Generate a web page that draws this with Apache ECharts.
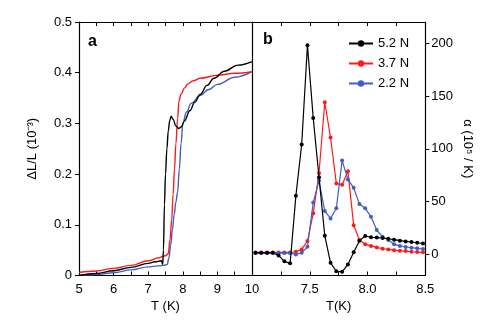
<!DOCTYPE html>
<html>
<head>
<meta charset="utf-8">
<script src="https://cdn.jsdelivr.net/npm/echarts@6/dist/echarts.min.js"></script>
<style>html,body{margin:0;padding:0;background:#fff}#c{width:502px;height:321px}</style>
</head>
<body>
<div id="c"></div>
<script>
// Panel a: relative length change ΔL/L (10^-3) vs T (K)
var aT_52 = [5.0, 5.5, 6.0, 6.5, 7.0, 7.2, 7.38, 7.42, 7.44, 7.47, 7.5, 7.54, 7.58, 7.62, 7.66, 7.72, 7.8, 7.88, 7.95, 8.05, 8.2, 8.35, 8.5, 8.7, 8.9, 9.2, 9.6, 10.0];
var aV_52 = [0.0, 0.004, 0.0095, 0.016, 0.024, 0.027, 0.029, 0.022, 0.05, 0.14, 0.2, 0.25, 0.285, 0.305, 0.314, 0.308, 0.295, 0.29, 0.293, 0.305, 0.325, 0.342, 0.357, 0.375, 0.389, 0.403, 0.415, 0.422];
var aT_37 = [5.0, 5.5, 6.0, 6.5, 7.0, 7.3, 7.5, 7.58, 7.63, 7.68, 7.72, 7.76, 7.8, 7.85, 7.89, 7.95, 8.05, 8.15, 8.3, 8.5, 9.0, 9.5, 10.0];
var aV_37 = [0.006, 0.009, 0.014, 0.020, 0.029, 0.035, 0.039, 0.043, 0.07, 0.11, 0.16, 0.21, 0.26, 0.31, 0.345, 0.358, 0.37, 0.378, 0.384, 0.389, 0.395, 0.399, 0.402];
var aT_22 = [5.0, 5.5, 6.0, 6.5, 7.0, 7.3, 7.45, 7.55, 7.6, 7.65, 7.7, 7.75, 7.8, 7.85, 7.9, 7.95, 8.0, 8.1, 8.25, 8.5, 8.75, 9.0, 9.5, 10.0];
var aV_22 = [0.0, 0.002, 0.0055, 0.011, 0.017, 0.019, 0.02, 0.022, 0.035, 0.06, 0.09, 0.12, 0.145, 0.165, 0.21, 0.26, 0.30, 0.322, 0.34, 0.355, 0.367, 0.377, 0.391, 0.402];

// Panel b: thermal expansion α (10^5 / K) vs T (K)
var bT = [7.03, 7.08, 7.13, 7.18, 7.23, 7.28, 7.33, 7.38, 7.43, 7.48, 7.53, 7.58, 7.63, 7.68, 7.73, 7.78, 7.83, 7.88, 7.93, 7.98, 8.03, 8.08, 8.13, 8.18, 8.23, 8.28, 8.33, 8.38, 8.43, 8.48];
var b_52 = [1.5, 1.5, 1.5, 1.5, -1, -6.6, -8.5, 55.6, 104, 198, 129, 73, 17.6, -8, -16, -16.5, -9.5, 2, 13, 17.4, 16.2, 15.9, 15.5, 14.8, 13.9, 13, 12.3, 11.7, 11, 10.3];
var b_37 = [1.8, 1.8, 1.8, 1.8, 1.8, 1.8, 1.8, 2.5, 4.7, 12.6, 39, 77, 144, 110.6, 67, 66, 78.7, 27.5, 13.6, 9.5, 8, 6.6, 5.3, 4.7, 4, 3.4, 3.1, 2.5, 2.2, 1.9];
var b_22 = [1.2, 1.2, 1.2, 1.2, 1.2, 1.2, 1.2, 0, 1.5, 7.2, 49, 69.8, 41, 34, 43.6, 88.8, 71, 63, 47.7, 43.6, 35.7, 23, 16.7, 13.6, 9.5, 8, 7, 6.3, 5.7, 5];

var seriesNames = ['5.2 N', '3.7 N', '2.2 N'];
var xTicksA = {min: 5, max: 10, interval: 1};
var xTicksB = {min: 7, max: 8.5, interval: 0.5};
var yTicksB = [0, 50, 100, 150, 200];

var COL = {k: '#000000', r: '#ff1a1a', b: '#3f5fc4'};
var FONT = '"Liberation Sans", Arial, sans-serif';

function pairs(xs, ys) { return xs.map(function (x, i) { return [x, ys[i]]; }); }

var axLine = {show: true, onZero: false, lineStyle: {color: '#000', width: 1.2}};
function xAx(grid, pos, lim, labels, extra) {
  var o = {
    type: 'value', gridIndex: grid, position: pos, min: lim.min, max: lim.max, interval: lim.interval,
    axisLine: axLine,
    axisTick: {show: true, inside: true, length: 4, lineStyle: {color: '#000', width: 1}},
    minorTick: {show: true, splitNumber: 2, length: 4, lineStyle: {color: '#000', width: 1}},
    splitLine: {show: false},
    axisLabel: {show: labels, color: '#000', fontSize: 13, fontFamily: FONT, margin: 7}
  };
  if (extra) for (var k in extra) o[k] = extra[k];
  return o;
}

var chart = echarts.init(document.getElementById('c'), null, {renderer: 'canvas'});
var xb = xAx(1, 'bottom', xTicksB, true, {name: 'T(K)', nameLocation: 'middle', nameGap: 21,
  nameTextStyle: {color: '#000', fontSize: 13, fontFamily: FONT}});
xb.axisLabel.formatter = function (v) { return v === xTicksB.min ? '' : v.toFixed(1); };
chart.setOption({
  animation: false,
  backgroundColor: '#fff',
  textStyle: {fontFamily: FONT},
  grid: [
    {left: 79, top: 22, width: 173, height: 253.5},
    {left: 252, top: 22, width: 173.3, height: 253.5}
  ],
  xAxis: [
    xAx(0, 'bottom', xTicksA, true, {name: 'T (K)', nameLocation: 'middle', nameGap: 21,
      nameTextStyle: {color: '#000', fontSize: 13, fontFamily: FONT}}),
    xAx(0, 'top', xTicksA, false),
    xb,
    xAx(1, 'top', xTicksB, false)
  ],
  yAxis: [
    {type: 'value', gridIndex: 0, position: 'left', min: 0, max: 0.5, interval: 0.1,
      axisLine: axLine,
      axisTick: {show: true, inside: false, length: 4, lineStyle: {color: '#000'}},
      splitLine: {show: false},
      axisLabel: {color: '#000', fontSize: 13, fontFamily: FONT, margin: 7},
      name: '\u0394L/L (10\u207B\u00B3)', nameLocation: 'middle', nameGap: 40, nameRotate: 90,
      nameTextStyle: {color: '#000', fontSize: 13, fontFamily: FONT}},
    {type: 'value', gridIndex: 0, position: 'right', min: 0, max: 0.5,
      axisLine: axLine, axisTick: {show: false}, axisLabel: {show: false}, splitLine: {show: false}},
    {type: 'value', gridIndex: 1, position: 'right', min: -20, max: 220,
      axisLine: axLine,
      axisTick: {show: true, inside: false, length: 4, customValues: yTicksB, lineStyle: {color: '#000'}},
      splitLine: {show: false},
      axisLabel: {color: '#000', fontSize: 13, fontFamily: FONT, margin: 6, customValues: yTicksB},
      name: '\u03B1 (10\u2075 / K)', nameLocation: 'middle', nameGap: 36, nameRotate: -90,
      nameTextStyle: {color: '#000', fontSize: 13, fontFamily: FONT}}
  ],
  legend: {
    data: seriesNames, orient: 'vertical', left: 343, top: 32, itemWidth: 24, itemHeight: 8,
    itemGap: 7, textStyle: {color: '#000', fontSize: 13, fontFamily: FONT}
  },
  graphic: [
    {type: 'text', left: 88, top: 34, style: {text: 'a', font: 'bold 16px ' + FONT, fill: '#000'}},
    {type: 'text', left: 263, top: 32, style: {text: 'b', font: 'bold 16px ' + FONT, fill: '#000'}}
  ],
  series: [
    {name: seriesNames[0], type: 'line', xAxisIndex: 2, yAxisIndex: 2, data: pairs(bT, b_52),
      symbol: 'circle', symbolSize: 4, lineStyle: {color: COL.k, width: 1.2}, itemStyle: {color: COL.k}, z: 5},
    {name: seriesNames[1], type: 'line', xAxisIndex: 2, yAxisIndex: 2, data: pairs(bT, b_37),
      symbol: 'circle', symbolSize: 4, lineStyle: {color: COL.r, width: 1.2}, itemStyle: {color: COL.r}, z: 3},
    {name: seriesNames[2], type: 'line', xAxisIndex: 2, yAxisIndex: 2, data: pairs(bT, b_22),
      symbol: 'circle', symbolSize: 4, lineStyle: {color: COL.b, width: 1.2}, itemStyle: {color: COL.b}, z: 4},
    {name: 'a ' + seriesNames[2], type: 'line', xAxisIndex: 0, yAxisIndex: 0, data: pairs(aT_22, aV_22),
      showSymbol: false, smooth: 0.4, smoothMonotone: 'x', lineStyle: {color: COL.b, width: 1.4}},
    {name: 'a ' + seriesNames[1], type: 'line', xAxisIndex: 0, yAxisIndex: 0, data: pairs(aT_37, aV_37),
      showSymbol: false, smooth: 0.4, smoothMonotone: 'x', lineStyle: {color: COL.r, width: 1.4}},
    {name: 'a ' + seriesNames[0], type: 'line', xAxisIndex: 0, yAxisIndex: 0, data: pairs(aT_52, aV_52),
      showSymbol: false, smooth: 0.4, smoothMonotone: 'x', lineStyle: {color: COL.k, width: 1.4}}
  ]
});
</script>
</body>
</html>
